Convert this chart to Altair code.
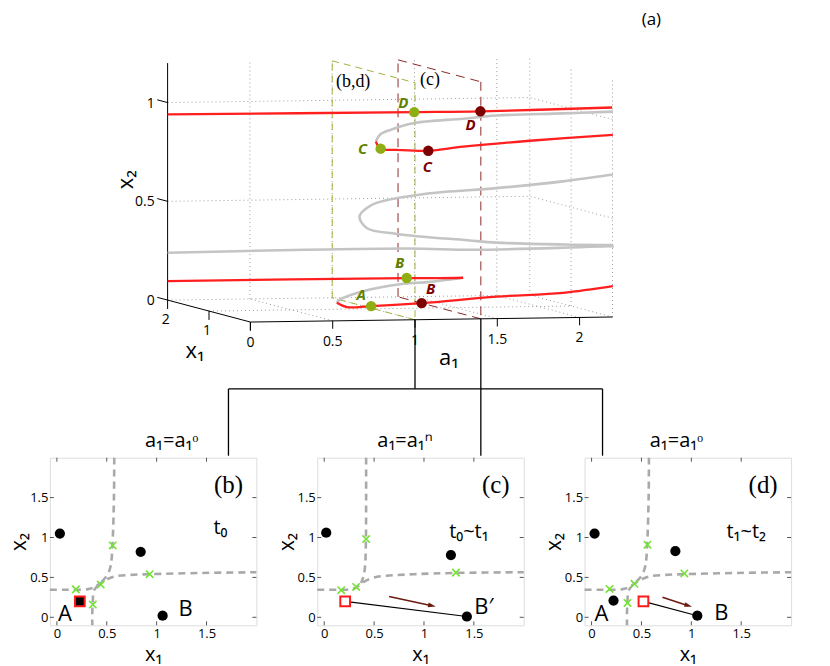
import math
import numpy as np
import pandas as pd
import altair as alt

FONT = "Open Sans"
SERIF = "Liberation Serif"

# ================= (a) 3-D bifurcation diagram =================
A1_TICKS = [0, 0.5, 1, 1.5, 2]
X1_TICKS = [0, 1, 2]
X2_TICKS = [0, 0.5, 1]
A1_MAX, X1_MAX, X2_MAX = 2.2, 2.0, 1.2
A1_O, A1_N = 1.0, 1.4          # a1 = a1^o  and  a1 = a1^n

# stable branches (red)
D_a1 = [0.0, 1.0, 1.4, 2.2]
D_x1 = [2.0, 0.02, 0.01, 0.01]
D_x2 = [0.94, 1.05, 1.05, 1.06]
C_a1 = [0.943, 1.0, 1.14, 1.4, 1.67, 2.175, 2.705]
C_x1 = [0.72, 0.83, 1.0, 1.27, 1.5, 1.9, 2.0]
C_x2 = [0.863, 0.82, 0.803, 0.78, 0.785, 0.787, 0.805]
A_a1 = [0.0, 1.0, 1.2, 1.358]
A_x1 = [2.0, 0.2, 0.22, 0.26]
A_x2 = [0.096, 0.2, 0.196, 0.194]
B_a1 = [0.681, 0.787, 1.0, 1.4, 1.973, 2.402, 2.705]
B_x1 = [0.62, 0.8, 1.06, 1.43, 1.9, 2.0, 2.0]
B_x2 = [0.055, 0.022, 0.01, 0.0, 0.0, 0.009, 0.039]

# unstable branches (gray)
SCD_a1 = [0.943, 0.952, 1.0, 1.115, 1.4, 1.59, 1.974, 2.265]
SCD_x1 = [0.72, 0.65, 0.58, 0.5, 0.42, 0.38, 0.3, 0.25]
SCD_x2 = [0.863, 0.902, 0.93, 0.966, 0.99, 1.006, 1.017, 1.025]
SM_a1 = [2.705, 2.389, 1.923, 1.4, 1.0, 0.904, 0.826, 0.845, 1.0, 1.4, 1.571, 1.962, 2.252]
SM_x1 = [2.0, 1.95, 1.7, 1.32, 0.93, 0.78, 0.65, 0.55, 0.44, 0.32, 0.3, 0.25, 0.2]
SM_x2 = [0.604, 0.576, 0.561, 0.56, 0.54, 0.524, 0.489, 0.436, 0.41, 0.38, 0.367, 0.356, 0.353]
H0_a1 = [0.0, 1.0, 1.4, 2.22]
H0_x1 = [2.0, 0.19, 0.17, 0.05]
H0_x2 = [0.24, 0.35, 0.34, 0.356]
SAB_a1 = [1.358, 1.166, 1.0, 0.798, 0.684, 0.681]
SAB_x1 = [0.26, 0.3, 0.36, 0.45, 0.55, 0.62]
SAB_x2 = [0.194, 0.173, 0.16, 0.122, 0.076, 0.055]

# marked equilibria
G_LBL = ["D", "C", "B", "A"]
G_X1 = [0.02, 0.83, 0.2, 1.06]
G_X2 = [1.05, 0.82, 0.2, 0.01]
R_LBL = ["D", "C", "B"]
R_X1 = [0.01, 1.27, 1.43]
R_X2 = [1.05, 0.78, 0.0]


def proj(a1, x1, x2):
    a1 = np.asarray(a1, float); x1 = np.asarray(x1, float); x2 = np.asarray(x2, float)
    return 250 + 165 * a1 - 41.5 * x1, 321 - 2.3 * a1 - 11 * x1 - 198 * x2


def curve_df(specs):
    frames = []
    for g, (a, x, z) in specs.items():
        px, py = proj(a, x, z)
        frames.append(pd.DataFrame({"px": px, "py": py, "i": np.arange(len(a)), "g": g}))
    return pd.concat(frames, ignore_index=True)


def seg_df(segs):
    rows = []
    for (a, b, c, d, e, f) in segs:
        p1 = proj(a, b, c); p2 = proj(d, e, f)
        rows.append({"px": float(p1[0]), "py": float(p1[1]),
                     "px2": float(p2[0]), "py2": float(p2[1])})
    return pd.DataFrame(rows)


# the top panel's frame starts where panel (b)'s plot area starts (vconcat aligns them)
TOP_X0, TOP_X1, TOP_Y0, TOP_Y1 = 49, 822, 8, 455
XS = alt.Scale(domain=[TOP_X0, TOP_X1], nice=False, zero=False)
YS = alt.Scale(domain=[TOP_Y0, TOP_Y1], reverse=True, nice=False, zero=False)


def ex(f="px"):
    return alt.X(f"{f}:Q", scale=XS, axis=None)


def ey(f="py"):
    return alt.Y(f"{f}:Q", scale=YS, axis=None)


def rule_layer(df, **kw):
    return alt.Chart(df).mark_rule(**kw).encode(
        x=ex(), y=ey(), x2=alt.X2("px2"), y2=alt.Y2("py2"))


def text_layer(df, **kw):
    return alt.Chart(df).mark_text(**kw).encode(x=ex("tx"), y=ey("ty"), text="txt:N")


# grid (dotted)
grid = []
for a in A1_TICKS[1:] + [A1_MAX]:
    grid.append((a, X1_MAX, 0, a, X1_MAX, X2_MAX))
for v in X2_TICKS:
    grid.append((0, X1_MAX, v, A1_MAX, X1_MAX, v))
    grid.append((A1_MAX, 0, v, A1_MAX, X1_MAX, v))
for x in X1_TICKS[:2]:
    grid.append((A1_MAX, x, 0, A1_MAX, x, X2_MAX))
for a in A1_TICKS[1:]:
    grid.append((a, 0, 0, a, X1_MAX, 0))
grid.append((0, 1, 0, A1_MAX, 1, 0))

# solid axes + ticks
axes = [(0, X1_MAX, 0, 0, X1_MAX, X2_MAX), (0, 0, 0, 0, X1_MAX, 0), (0, 0, 0, A1_MAX, 0, 0)]
for a in A1_TICKS:
    axes.append((a, 0, 0, a, 0, -0.04))
for x in X1_TICKS:
    axes.append((0, x, 0, 0, x, -0.045))
for v in X2_TICKS:
    axes.append((0, X1_MAX, v, 0, X1_MAX + 0.25, v))


def plane(a):
    return [(a, 0, 0, a, X1_MAX, 0), (a, X1_MAX, 0, a, X1_MAX, X2_MAX),
            (a, X1_MAX, X2_MAX, a, 0, X2_MAX), (a, 0, X2_MAX, a, 0, 0)]


red_df = curve_df({"D": (D_a1, D_x1, D_x2), "C": (C_a1, C_x1, C_x2),
                   "A": (A_a1, A_x1, A_x2), "B": (B_a1, B_x1, B_x2)})
gray_df = curve_df({"SCD": (SCD_a1, SCD_x1, SCD_x2), "SM": (SM_a1, SM_x1, SM_x2),
                    "H0": (H0_a1, H0_x1, H0_x2), "SAB": (SAB_a1, SAB_x1, SAB_x2)})

gpx, gpy = proj([A1_O] * 4, G_X1, G_X2)
rpx, rpy = proj([A1_N] * 3, R_X1, R_X2)
g_pts = pd.DataFrame({"px": gpx, "py": gpy})
r_pts = pd.DataFrame({"px": rpx, "py": rpy})
G_OFF = [(-11, -9), (-18, 0), (-7, -15), (-10, -11)]
R_OFF = [(-10, 14), (-1, 16), (9, -14)]
g_lbl = pd.DataFrame({"tx": gpx + [o[0] for o in G_OFF], "ty": gpy + [o[1] for o in G_OFF], "txt": G_LBL})
r_lbl = pd.DataFrame({"tx": rpx + [o[0] for o in R_OFF], "ty": rpy + [o[1] for o in R_OFF], "txt": R_LBL})

# tick labels
ax_, ay_ = proj(A1_TICKS, [0] * 5, [0] * 5)
a1_lbl = pd.DataFrame({"tx": ax_, "ty": ay_ + 21, "txt": [f"{t:g}" for t in A1_TICKS]})
xx_, xy_ = proj([0, 0], X1_TICKS[1:], [0, 0])
x1_lbl = pd.DataFrame({"tx": xx_ - 2, "ty": xy_ + 20, "txt": [f"{t:g}" for t in X1_TICKS[1:]]})
vx_, vy_ = proj([0] * 3, [X1_MAX] * 3, X2_TICKS)
x2_lbl = pd.DataFrame({"tx": vx_ - 13, "ty": vy_ + 1, "txt": [f"{t:g}" for t in X2_TICKS]})

t1 = proj(0, X1_MAX, 0.6)
t2 = proj(0, 1, 0)
t3 = proj(1.2, 0, 0)
x2_title = pd.DataFrame({"tx": [float(t1[0]) - 42], "ty": [float(t1[1]) - 2], "txt": ["x₂"]})
ax_titles = pd.DataFrame({"tx": [float(t2[0]) - 14, float(t3[0]) + 1],
                          "ty": [float(t2[1]) + 40, float(t3[1]) + 39], "txt": ["x₁", "a₁"]})

cg = proj(A1_O, X1_MAX, X2_MAX)
cr = proj(A1_N, X1_MAX, X2_MAX)
plane_lbl = pd.DataFrame({"tx": [float(cg[0]) + 21, float(cr[0]) + 32],
                          "ty": [float(cg[1]) + 21, float(cr[1]) + 20], "txt": ["(b,d)", "(c)"]})

# tree connectors and sub-panel titles (page layout)
BAR_Y, PANEL_TOP = 388, 455
CONN_X = [228, 603]
fo = proj(A1_O, 0, 0)
fn = proj(A1_N, 0, 0)
conn = pd.DataFrame({
    "px": [float(fo[0]), float(fn[0]), CONN_X[0], CONN_X[0], CONN_X[1]],
    "py": [float(fo[1]), float(fn[1]), BAR_Y, BAR_Y, BAR_Y],
    "px2": [float(fo[0]), float(fn[0]), CONN_X[1], CONN_X[0], CONN_X[1]],
    "py2": [BAR_Y, PANEL_TOP, BAR_Y, PANEL_TOP, PANEL_TOP]})
SUB_TITLES = ["a₁=a₁ᵒ", "a₁=a₁ⁿ", "a₁=a₁ᵒ"]
sub_title = pd.DataFrame({"tx": [171, 405, 677], "ty": [440, 440, 440], "txt": SUB_TITLES})
tag_a = pd.DataFrame({"tx": [652], "ty": [18], "txt": ["(a)"]})

top = alt.layer(
    rule_layer(seg_df(grid), color="#9c9c9c", strokeDash=[1, 3], strokeWidth=1),
    rule_layer(seg_df(plane(A1_O)), color="#a3b23a", strokeDash=[7, 5], strokeWidth=1),
    rule_layer(seg_df(plane(A1_N)), color="#8c2a2a", strokeDash=[9, 6], strokeWidth=1),
    rule_layer(seg_df(axes), color="black", strokeWidth=1),
    rule_layer(conn, color="black", strokeWidth=1.3),
    alt.Chart(gray_df).mark_line(color="#c4c4c4", strokeWidth=2.6, interpolate="catmull-rom").encode(
        x=ex(), y=ey(), order="i:Q", detail="g:N"),
    alt.Chart(red_df).mark_line(color="#ff1f1f", strokeWidth=2.3, interpolate="catmull-rom").encode(
        x=ex(), y=ey(), order="i:Q", detail="g:N"),
    alt.Chart(g_pts).mark_circle(size=110, color="#8fae14", opacity=1).encode(x=ex(), y=ey()),
    alt.Chart(r_pts).mark_circle(size=110, color="#7d0000", opacity=1).encode(x=ex(), y=ey()),
    text_layer(g_lbl, font=FONT, fontSize=15, fontStyle="italic", fontWeight="bold", color="#5f8200"),
    text_layer(r_lbl, font=FONT, fontSize=15, fontStyle="italic", fontWeight="bold", color="#7d0000"),
    text_layer(a1_lbl, font=FONT, fontSize=14),
    text_layer(x1_lbl, font=FONT, fontSize=14),
    text_layer(x2_lbl, font=FONT, fontSize=14, align="right"),
    text_layer(x2_title, font=FONT, fontSize=22, angle=270),
    text_layer(ax_titles, font=FONT, fontSize=22),
    text_layer(plane_lbl, font=SERIF, fontSize=18),
    text_layer(sub_title, font=FONT, fontSize=20),
    text_layer(tag_a, font=FONT, fontSize=17),
).properties(width=TOP_X1 - TOP_X0, height=TOP_Y1 - TOP_Y0,
             view=alt.ViewBackground(stroke="transparent"))

# ================= (b), (c), (d) phase planes =================
P_TICKS = [0, 0.5, 1, 1.5]
PX_LIM = [-0.07, 2.0]
PY_LIM = [-0.1, 2.0]
PW, PH = 207, 168

# separatrices at a1 = a1^o  (panels b, d)
SEP_O_H_X = [-0.07, 0.1, 0.3, 0.36, 0.44, 0.51, 0.57, 0.72, 0.92, 1.46, 2.0]
SEP_O_H_Y = [0.345, 0.345, 0.35, 0.37, 0.43, 0.48, 0.51, 0.53, 0.54, 0.556, 0.565]
SEP_O_V_X = [0.575, 0.572, 0.557, 0.54, 0.51, 0.46, 0.41, 0.37, 0.36, 0.355, 0.355]
SEP_O_V_Y = [2.0, 1.5, 0.9, 0.65, 0.54, 0.46, 0.40, 0.33, 0.2, 0.05, -0.1]
# separatrices at a1 = a1^n  (panel c)
SEP_N_H_X = [-0.07, 0.1, 0.22, 0.3, 0.36, 0.42, 0.5, 0.62, 0.9, 1.32, 2.0]
SEP_N_H_Y = [0.345, 0.345, 0.345, 0.36, 0.41, 0.46, 0.5, 0.52, 0.54, 0.556, 0.565]
SEP_N_V_X = [0.42, 0.42, 0.418, 0.41, 0.395, 0.37]
SEP_N_V_Y = [2.0, 1.5, 0.98, 0.65, 0.52, 0.43]

# stable states (black dots) and saddles (green crosses)
B_DOT_X = [0.03, 0.84, 1.06]
B_DOT_Y = [1.05, 0.82, 0.02]
B_SAD_X = [0.19, 0.36, 0.44, 0.56, 0.93]
B_SAD_Y = [0.35, 0.16, 0.41, 0.9, 0.54]
B_SQ = (0.23, 0.2)

C_DOT_X = [0.02, 1.27, 1.43]
C_DOT_Y = [1.06, 0.78, 0.01]
C_SAD_X = [0.17, 0.32, 0.42, 1.32]
C_SAD_Y = [0.34, 0.38, 0.98, 0.56]
C_SQ = (0.21, 0.2)
C_ARROW = (0.65, 0.26, 1.08, 0.146)

D_DOT_X = [0.03, 0.84, 0.22, 1.06]
D_DOT_Y = [1.05, 0.83, 0.21, 0.02]
D_SAD_X = [0.18, 0.36, 0.43, 0.56, 0.93]
D_SAD_Y = [0.356, 0.18, 0.42, 0.91, 0.55]
D_SQ = (0.52, 0.2)
D_ARROW = (0.71, 0.25, 0.97, 0.146)

SX = PW / (PX_LIM[1] - PX_LIM[0])
SY = PH / (PY_LIM[1] - PY_LIM[0])

XP = alt.Scale(domain=PX_LIM, nice=False, zero=False)
YP = alt.Scale(domain=PY_LIM, nice=False, zero=False)
AX = alt.Axis(values=P_TICKS, format="~g", title="x₁", grid=False, ticks=False, domain=False,
              labelPadding=2, titlePadding=4, labelFontSize=13, titleFontSize=20,
              titleFontWeight="normal", labelColor="black", titleColor="black",
              labelFont=FONT, titleFont=FONT)
AY = alt.Axis(values=P_TICKS, format="~g", title="x₂", grid=False, ticks=False, domain=False,
              labelPadding=2, titlePadding=0, labelFontSize=13, titleFontSize=21,
              titleFontWeight="normal", labelColor="black", titleColor="black",
              labelFont=FONT, titleFont=FONT)
XSHAPE = "M-1,-1L1,1M-1,1L1,-1"
HEAD = "M1,0L-1,-0.6L-1,0.6Z"


def px_(f="x"):
    return alt.X(f"{f}:Q", scale=XP, axis=AX)


def py_(f="y"):
    return alt.Y(f"{f}:Q", scale=YP, axis=AY)


def panel(tag, tlabel, tpos, dots, sads, sep, sq, sq_filled, target=None, arrow=None, letters=None):
    (hx, hy), (vx, vy) = sep
    sep_df = pd.concat([
        pd.DataFrame({"x": hx, "y": hy, "i": range(len(hx)), "g": "h"}),
        pd.DataFrame({"x": vx, "y": vy, "i": range(len(vx)), "g": "v"})], ignore_index=True)
    rows = []
    for t in P_TICKS:
        rows += [(t, PY_LIM[0], t, PY_LIM[0] + 0.05), (t, PY_LIM[1], t, PY_LIM[1] - 0.05),
                 (PX_LIM[0], t, PX_LIM[0] + 0.04, t), (PX_LIM[1], t, PX_LIM[1] - 0.04, t)]
    tick_df = pd.DataFrame(rows, columns=["x", "y", "xe", "ye"])
    layers = [
        alt.Chart(tick_df).mark_rule(color="#555555", strokeWidth=1).encode(
            x=px_(), y=py_(), x2=alt.X2("xe"), y2=alt.Y2("ye")),
        alt.Chart(sep_df).mark_line(color="#a9a9a9", strokeWidth=2.6, strokeDash=[7, 5],
                                    interpolate="catmull-rom").encode(
            x=px_(), y=py_(), order="i:Q", detail="g:N"),
    ]
    if target is not None:
        tdf = pd.DataFrame({"x": [sq[0]], "y": [sq[1]], "xe": [target[0]], "ye": [target[1]]})
        layers.append(alt.Chart(tdf).mark_rule(color="black", strokeWidth=1.2).encode(
            x=px_(), y=py_(), x2=alt.X2("xe"), y2=alt.Y2("ye")))
    if arrow is not None:
        x0, y0, x1, y1 = arrow
        ang = math.degrees(math.atan2((y0 - y1) * SY, (x1 - x0) * SX)) % 360
        adf = pd.DataFrame({"x": [x0], "y": [y0], "xe": [x1], "ye": [y1]})
        layers.append(alt.Chart(adf).mark_rule(color="#6b1c10", strokeWidth=1.6).encode(
            x=px_(), y=py_(), x2=alt.X2("xe"), y2=alt.Y2("ye")))
        layers.append(alt.Chart(pd.DataFrame({"x": [x1], "y": [y1]})).mark_point(
            shape=HEAD, size=60, filled=True, color="#6b1c10", opacity=1, angle=ang).encode(
            x=px_(), y=py_()))
    layers += [
        alt.Chart(pd.DataFrame({"x": dots[0], "y": dots[1]})).mark_circle(
            size=105, color="black", opacity=1).encode(x=px_(), y=py_()),
        alt.Chart(pd.DataFrame({"x": [sq[0]], "y": [sq[1]]})).mark_point(
            shape="square", size=95, filled=True, fill="black" if sq_filled else "white",
            stroke="#ff1a1a", strokeWidth=2, opacity=1).encode(x=px_(), y=py_()),
        alt.Chart(pd.DataFrame({"x": sads[0], "y": sads[1]})).mark_point(
            shape=XSHAPE, size=55, filled=False, color="#74e236", strokeWidth=1.6, opacity=1).encode(
            x=px_(), y=py_()),
        alt.Chart(pd.DataFrame({"x": [1.72], "y": [1.66], "t": [tag]})).mark_text(
            font=SERIF, fontSize=25).encode(x=px_(), y=py_(), text="t:N"),
        alt.Chart(pd.DataFrame({"x": [tpos[0]], "y": [tpos[1]], "t": [tlabel]})).mark_text(
            font=FONT, fontSize=20).encode(x=px_(), y=py_(), text="t:N"),
    ]
    if letters is not None:
        layers.append(alt.Chart(pd.DataFrame(letters, columns=["x", "y", "t"])).mark_text(
            font=FONT, fontSize=22).encode(x=px_(), y=py_(), text="t:N"))
    return alt.layer(*layers).properties(width=PW, height=PH)


pb = panel("(b)", "t₀", (1.64, 1.12), (B_DOT_X, B_DOT_Y), (B_SAD_X, B_SAD_Y),
           ((SEP_O_H_X, SEP_O_H_Y), (SEP_O_V_X, SEP_O_V_Y)), B_SQ, True,
           letters=[(0.08, 0.04, "A"), (1.29, 0.1, "B")])
pc = panel("(c)", "t₀~t₁", (1.45, 1.07), (C_DOT_X, C_DOT_Y), (C_SAD_X, C_SAD_Y),
           ((SEP_N_H_X, SEP_N_H_Y), (SEP_N_V_X, SEP_N_V_Y)), C_SQ, False,
           target=(C_DOT_X[2], C_DOT_Y[2]), arrow=C_ARROW,
           letters=[(1.6, 0.125, "B′")])
pd_ = panel("(d)", "t₁~t₂", (1.55, 1.07), (D_DOT_X, D_DOT_Y), (D_SAD_X, D_SAD_Y),
            ((SEP_O_H_X, SEP_O_H_Y), (SEP_O_V_X, SEP_O_V_Y)), D_SQ, False,
            target=(D_DOT_X[3], D_DOT_Y[3]), arrow=D_ARROW,
            letters=[(0.1, 0.04, "A"), (1.3, 0.06, "B")])

bottom = alt.hconcat(pb, pc, pd_, spacing=13)

chart = alt.vconcat(top, bottom, spacing=-11).properties(padding=0).configure_view(
    stroke="#4d4d4d", strokeWidth=1.2).configure(font=FONT)

chart.save("out.html", embed_options={"renderer": "svg", "actions": False})
